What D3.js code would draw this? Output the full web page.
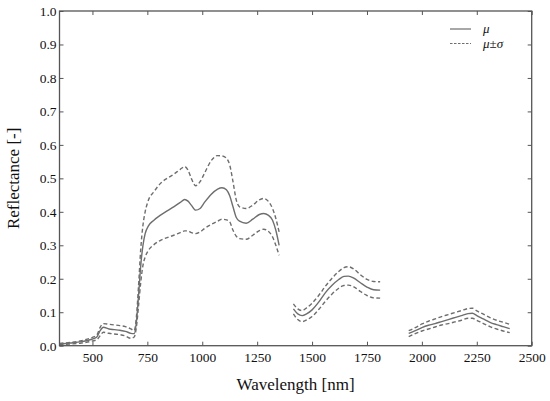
<!DOCTYPE html>
<html>
<head>
<meta charset="utf-8">
<script src="https://cdn.jsdelivr.net/npm/d3@7"></script>
<style>
  body { margin: 0; background: #fff; }
</style>
</head>
<body>
<svg id="chart" width="550" height="401"></svg>
<script>
// wavelengths [nm], null marks the removed water bands
const wavelengths = [350, 400, 450, 500, 520, 535, 550, 575, 600, 625, 650, 675, 690, 700, 710, 720, 730, 740, 755, 780,
  810, 840, 870, 900, 920, 935, 950, 970, 990, 1010, 1040, 1070, 1090, 1110, 1125, 1140, 1155, 1170, 1200, 1230,
  1260, 1280, 1300, 1320, 1335, 1350, null,
  1415, 1435, 1455, 1475, 1500, 1530, 1560, 1590, 1620, 1645, 1665, 1690, 1720, 1750, 1780, 1810, null,
  1940, 1970, 2000, 2030, 2060, 2090, 2120, 2150, 2180, 2210, 2230, 2250, 2280, 2310, 2340, 2370, 2400];

const mu = [0.005, 0.008, 0.012, 0.020, 0.026, 0.045, 0.055, 0.050, 0.048, 0.046, 0.043, 0.037, 0.036, 0.070, 0.150, 0.240, 0.300, 0.335, 0.358, 0.375,
  0.390, 0.403, 0.415, 0.428, 0.437, 0.432, 0.420, 0.405, 0.410, 0.428, 0.452, 0.468, 0.472, 0.466, 0.448, 0.415, 0.383, 0.372, 0.366, 0.378,
  0.392, 0.395, 0.390, 0.375, 0.345, 0.300, null,
  0.110, 0.095, 0.090, 0.095, 0.107, 0.130, 0.158, 0.180, 0.197, 0.207, 0.208, 0.202, 0.188, 0.175, 0.167, 0.166, null,
  0.037, 0.045, 0.054, 0.061, 0.066, 0.072, 0.078, 0.084, 0.090, 0.096, 0.097, 0.090, 0.080, 0.070, 0.063, 0.057, 0.051];

const muPlus = [0.007, 0.010, 0.015, 0.025, 0.032, 0.055, 0.066, 0.064, 0.062, 0.060, 0.057, 0.050, 0.045, 0.085, 0.180, 0.290, 0.360, 0.400, 0.435, 0.460,
  0.485, 0.500, 0.512, 0.527, 0.535, 0.525, 0.500, 0.478, 0.490, 0.515, 0.552, 0.568, 0.567, 0.560, 0.540, 0.490, 0.435, 0.415, 0.410, 0.420,
  0.436, 0.440, 0.432, 0.410, 0.380, 0.340, null,
  0.125, 0.110, 0.105, 0.113, 0.127, 0.150, 0.177, 0.201, 0.221, 0.233, 0.236, 0.229, 0.212, 0.198, 0.192, 0.191, null,
  0.045, 0.054, 0.065, 0.073, 0.080, 0.087, 0.093, 0.099, 0.105, 0.111, 0.112, 0.104, 0.094, 0.084, 0.076, 0.070, 0.064];

const muMinus = [0.003, 0.005, 0.008, 0.014, 0.018, 0.030, 0.040, 0.037, 0.035, 0.033, 0.029, 0.022, 0.026, 0.055, 0.120, 0.190, 0.240, 0.265, 0.285, 0.302,
  0.315, 0.323, 0.330, 0.338, 0.343, 0.343, 0.338, 0.335, 0.340, 0.350, 0.362, 0.372, 0.378, 0.376, 0.370, 0.345, 0.327, 0.320, 0.318, 0.330,
  0.344, 0.348, 0.342, 0.325, 0.300, 0.270, null,
  0.095, 0.078, 0.072, 0.077, 0.087, 0.108, 0.132, 0.154, 0.171, 0.180, 0.181, 0.176, 0.162, 0.150, 0.143, 0.142, null,
  0.027, 0.036, 0.044, 0.050, 0.056, 0.062, 0.066, 0.071, 0.076, 0.082, 0.082, 0.076, 0.066, 0.057, 0.050, 0.044, 0.039];

const xTicks = [500, 750, 1000, 1250, 1500, 1750, 2000, 2250, 2500];
const yTicks = [0.0, 0.1, 0.2, 0.3, 0.4, 0.5, 0.6, 0.7, 0.8, 0.9, 1.0];

const margin = {left: 59.5, top: 11, right: 18.3, bottom: 55.3},
      W = 550, H = 401,
      font = '"Liberation Serif"',
      lineColor = '#6e6e6e',
      frameColor = '#555';

const svg = d3.select('#chart');

const x = d3.scaleLinear().domain([350, 2500]).range([margin.left, W - margin.right]);
const y = d3.scaleLinear().domain([0, 1]).range([H - margin.bottom, margin.top]);

// axes, ticks drawn inward on all four sides
const tickLen = 4;
svg.append('g')
  .attr('transform', `translate(0,${y(0)})`)
  .call(d3.axisBottom(x).tickValues(xTicks).tickSize(-tickLen).tickPadding(7).tickFormat(d3.format('d')))
  .call(g => g.select('.domain').remove());
svg.append('g')
  .attr('transform', `translate(0,${y(1)})`)
  .call(d3.axisTop(x).tickValues(xTicks).tickSize(-tickLen).tickFormat(''))
  .call(g => g.select('.domain').remove());
svg.append('g')
  .attr('transform', `translate(${x(350)},0)`)
  .call(d3.axisLeft(y).tickValues(yTicks).tickSize(-tickLen).tickPadding(3).tickFormat(d3.format('.1f')))
  .call(g => g.select('.domain').remove());
svg.append('g')
  .attr('transform', `translate(${x(2500)},0)`)
  .call(d3.axisRight(y).tickValues(yTicks).tickSize(-tickLen).tickFormat(''))
  .call(g => g.select('.domain').remove());

svg.selectAll('g').attr('font-family', null).attr('font-size', null);
svg.selectAll('.tick line').attr('stroke', frameColor).attr('stroke-width', 1);
svg.selectAll('.tick text')
  .style('font-family', font)
  .style('font-size', '13.5px')
  .attr('fill', '#111');

// lines
const idx = d3.range(wavelengths.length);
const makeLine = (vals) => d3.line()
  .defined(i => wavelengths[i] !== null && vals[i] !== null)
  .x(i => x(wavelengths[i]))
  .y(i => y(vals[i]))
  .curve(d3.curveMonotoneX);

svg.append('path')
  .attr('d', makeLine(muPlus)(idx))
  .attr('fill', 'none').attr('stroke', lineColor)
  .attr('stroke-width', 1.4).attr('stroke-dasharray', '4,2.5');
svg.append('path')
  .attr('d', makeLine(muMinus)(idx))
  .attr('fill', 'none').attr('stroke', lineColor)
  .attr('stroke-width', 1.4).attr('stroke-dasharray', '4,2.5');
svg.append('path')
  .attr('d', makeLine(mu)(idx))
  .attr('fill', 'none').attr('stroke', lineColor)
  .attr('stroke-width', 1.4);

// frame
svg.append('rect')
  .attr('x', x(350)).attr('y', y(1))
  .attr('width', x(2500) - x(350)).attr('height', y(0) - y(1))
  .attr('fill', 'none').attr('stroke', frameColor).attr('stroke-width', 1.3);

// axis labels
svg.append('text')
  .attr('x', (x(350) + x(2500)) / 2).attr('y', 390)
  .attr('text-anchor', 'middle')
  .style('font-family', font).style('font-size', '17px').attr('fill', '#111')
  .text('Wavelength [nm]');
svg.append('text')
  .attr('transform', `translate(19,${(y(0) + y(1)) / 2}) rotate(-90)`)
  .attr('text-anchor', 'middle')
  .style('font-family', font).style('font-size', '17px').attr('fill', '#111')
  .text('Reflectance [-]');

// legend
const legend = svg.append('g');
legend.append('line')
  .attr('x1', 450).attr('x2', 471).attr('y1', 29).attr('y2', 29)
  .attr('stroke', lineColor).attr('stroke-width', 1.2);
legend.append('line')
  .attr('x1', 450).attr('x2', 471).attr('y1', 43.5).attr('y2', 43.5)
  .attr('stroke', lineColor).attr('stroke-width', 1.2).attr('stroke-dasharray', '2.5,1.5');
legend.append('text')
  .attr('x', 483).attr('y', 33)
  .style('font-family', font).style('font-size', '13px').style('font-style', 'italic').attr('fill', '#111')
  .text('μ');
const t2 = legend.append('text')
  .attr('x', 483).attr('y', 47.5)
  .style('font-family', font).style('font-size', '13px').attr('fill', '#111');
t2.append('tspan').style('font-style', 'italic').text('μ');
t2.append('tspan').text('±');
t2.append('tspan').style('font-style', 'italic').text('σ');
</script>
</body>
</html>
